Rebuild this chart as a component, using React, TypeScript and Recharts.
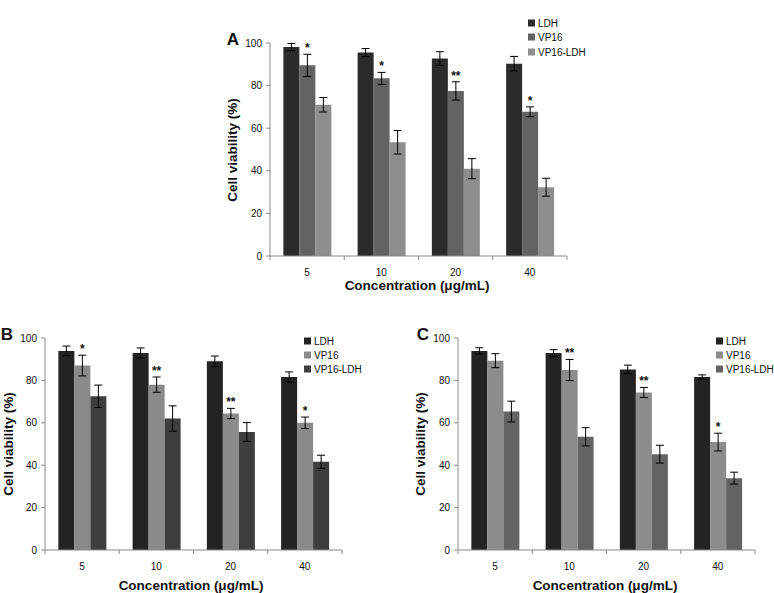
import React from "react";
import { BarChart, Bar, XAxis, YAxis, ErrorBar, LabelList } from "recharts";

const concentrations = ["5", "10", "20", "40"];
const yTicks = [0, 20, 40, 60, 80, 100];
const seriesNames = ["LDH", "VP16", "VP16-LDH"];

// Panel A
const aLDH = [98.1, 95.5, 92.7, 90.3];
const aLDHErr = [1.7, 1.9, 3.2, 3.4];
const aVP16 = [89.5, 83.4, 77.5, 67.7];
const aVP16Err = [5.2, 2.8, 4.3, 2.3];
const aVP16LDH = [71.0, 53.4, 41.0, 32.3];
const aVP16LDHErr = [3.4, 5.5, 4.7, 4.2];
const aSig = ["*", "*", "**", "*"];

// Panel B
const bLDH = [93.9, 92.9, 89.0, 81.6];
const bLDHErr = [2.3, 2.4, 2.5, 2.4];
const bVP16 = [87.0, 78.0, 64.4, 60.0];
const bVP16Err = [4.9, 3.6, 2.4, 2.7];
const bVP16LDH = [72.5, 62.0, 55.7, 41.6];
const bVP16LDHErr = [5.3, 6.0, 4.4, 3.1];
const bSig = ["*", "**", "**", "*"];

// Panel C
const cLDH = [93.9, 92.9, 85.2, 81.6];
const cLDHErr = [1.5, 1.6, 2.0, 1.0];
const cVP16 = [89.3, 84.9, 74.3, 50.9];
const cVP16Err = [3.3, 5.0, 2.4, 4.2];
const cVP16LDH = [65.3, 53.4, 45.2, 33.9];
const cVP16LDHErr = [4.9, 4.3, 4.2, 2.8];
const cSig = ["", "**", "**", "*"];

const FONT = "'Liberation Sans', Arial, sans-serif";

type Row = {
  c: string;
  ldh: number; ldhErr: number;
  vp: number; vpErr: number;
  vl: number; vlErr: number;
  sig: string;
};

function buildRows(l: number[], le: number[], v: number[], ve: number[], w: number[], we: number[], s: string[]): Row[] {
  return concentrations.map((c, i) => ({
    c, ldh: l[i], ldhErr: le[i], vp: v[i], vpErr: ve[i], vl: w[i], vlErr: we[i], sig: s[i],
  }));
}

const dataA = buildRows(aLDH, aLDHErr, aVP16, aVP16Err, aVP16LDH, aVP16LDHErr, aSig);
const dataB = buildRows(bLDH, bLDHErr, bVP16, bVP16Err, bVP16LDH, bVP16LDHErr, bSig);
const dataC = buildRows(cLDH, cLDHErr, cVP16, cVP16Err, cVP16LDH, cVP16LDHErr, cSig);

type PanelProps = {
  data: Row[];
  colors: string[];
  letter: string;
  box: { left: number; top: number; width: number; height: number };
  yAxisWidth: number;
  margin: { top: number; right: number; bottom: number; left: number };
  letterPos: { x: number; y: number };
  legendPos: { x: number; y: number; step: number };
  yTitlePos: { x: number; y: number };
  xTitlePos: { x: number; y: number };
};

const AXIS_COLOR = "#8a8a8a";

function Panel(p: PanelProps) {
  const plotWidth = p.box.width - p.margin.left - p.margin.right - p.yAxisWidth;
  const n = p.data.length;
  const bw = plotWidth / n;

  const XTick = (props: any) => {
    const { x, y, payload, index } = props;
    return (
      <g>
        <line x1={x - bw / 2} x2={x - bw / 2} y1={y} y2={y + 4} stroke={AXIS_COLOR} />
        {index === n - 1 && (
          <line x1={x + bw / 2} x2={x + bw / 2} y1={y} y2={y + 4} stroke={AXIS_COLOR} />
        )}
        <text x={x} y={y + 20} textAnchor="middle" fontSize={10} fill="#111" fontFamily={FONT}>
          {payload.value}
        </text>
      </g>
    );
  };

  const SigLabel = (props: any) => {
    const { x, y, width, height, value, index } = props;
    const row = p.data[index];
    if (!row || !row.sig) return null;
    const scale = height / value;
    const errTop = y - row.vpErr * scale;
    return (
      <text x={x + width / 2} y={errTop - 2} textAnchor="middle" fontSize={12} fontWeight="bold" fill="#111" fontFamily={FONT}>
        {row.sig}
      </text>
    );
  };

  return (
    <>
      <div style={{ position: "absolute", left: p.box.left, top: p.box.top }}>
        <BarChart
          width={p.box.width}
          height={p.box.height}
          data={p.data}
          margin={p.margin}
          barCategoryGap="18%"
          barGap={0}
        >
          <XAxis
            dataKey="c"
            height={30}
            stroke={AXIS_COLOR}
            tickLine={false}
            tickSize={0}
            tickMargin={0}
            tick={<XTick />}
            interval={0}
          />
          <YAxis
            width={p.yAxisWidth}
            domain={[0, 100]}
            ticks={yTicks}
            stroke={AXIS_COLOR}
            tickSize={4}
            tickMargin={4}
            tick={{ fontSize: 10, fill: "#111", fontFamily: FONT }}
            interval={0}
          />
          <Bar dataKey="ldh" fill={p.colors[0]} isAnimationActive={false}>
            <ErrorBar dataKey="ldhErr" width={4} stroke="#000" strokeWidth={1} direction="y" isAnimationActive={false} />
          </Bar>
          <Bar dataKey="vp" fill={p.colors[1]} isAnimationActive={false}>
            <ErrorBar dataKey="vpErr" width={4} stroke="#000" strokeWidth={1} direction="y" isAnimationActive={false} />
            <LabelList dataKey="vp" content={<SigLabel />} />
          </Bar>
          <Bar dataKey="vl" fill={p.colors[2]} isAnimationActive={false}>
            <ErrorBar dataKey="vlErr" width={4} stroke="#000" strokeWidth={1} direction="y" isAnimationActive={false} />
          </Bar>
        </BarChart>
      </div>
      <div
        style={{
          position: "absolute", left: p.letterPos.x, top: p.letterPos.y,
          transform: "translate(-50%, -50%)", fontFamily: FONT, fontWeight: "bold", fontSize: 17, color: "#111",
        }}
      >
        {p.letter}
      </div>
      <div
        style={{
          position: "absolute", left: p.yTitlePos.x, top: p.yTitlePos.y,
          transform: "translate(-50%, -50%) rotate(-90deg)", whiteSpace: "nowrap",
          fontFamily: FONT, fontWeight: "bold", fontSize: 13.5, color: "#111",
        }}
      >
        Cell viability (%)
      </div>
      <div
        style={{
          position: "absolute", left: p.xTitlePos.x, top: p.xTitlePos.y,
          transform: "translate(-50%, -50%)", whiteSpace: "nowrap",
          fontFamily: FONT, fontWeight: "bold", fontSize: 13.5, color: "#111",
        }}
      >
        Concentration (μg/mL)
      </div>
      {seriesNames.map((name, i) => (
        <div
          key={name}
          style={{
            position: "absolute", left: p.legendPos.x, top: p.legendPos.y + i * p.legendPos.step,
            transform: "translateY(-50%)", display: "flex", alignItems: "center",
            fontFamily: FONT, fontSize: 10, color: "#111", whiteSpace: "nowrap",
          }}
        >
          <span style={{ display: "inline-block", width: 7, height: 7, background: p.colors[i], marginRight: 3 }} />
          {name}
        </div>
      ))}
    </>
  );
}

export default function App() {
  return (
    <div style={{ position: "absolute", left: 0, top: 0, width: 774, height: 593, background: "#fff", overflow: "hidden" }}>
      <Panel
        data={dataA}
        colors={["#2b2b2b", "#636363", "#8e8e8e"]}
        letter="A"
        box={{ left: 190, top: 0, width: 400, height: 300 }}
        yAxisWidth={80}
        margin={{ top: 43, right: 23, bottom: 14, left: 0 }}
        letterPos={{ x: 233, y: 40 }}
        legendPos={{ x: 528, y: 22.7, step: 14.5 }}
        yTitlePos={{ x: 232, y: 150 }}
        xTitlePos={{ x: 417, y: 285 }}
      />
      <Panel
        data={dataB}
        colors={["#232323", "#8a8a8a", "#3e3e3e"]}
        letter="B"
        box={{ left: 0, top: 300, width: 360, height: 293 }}
        yAxisWidth={45}
        margin={{ top: 38, right: 18, bottom: 13, left: 0 }}
        letterPos={{ x: 7, y: 335 }}
        legendPos={{ x: 304, y: 340.7, step: 14.2 }}
        yTitlePos={{ x: 8, y: 444 }}
        xTitlePos={{ x: 191, y: 585 }}
      />
      <Panel
        data={dataC}
        colors={["#232323", "#8c8c8c", "#636363"]}
        letter="C"
        box={{ left: 400, top: 300, width: 374, height: 293 }}
        yAxisWidth={58}
        margin={{ top: 38, right: 19, bottom: 13, left: 0 }}
        letterPos={{ x: 423, y: 335 }}
        legendPos={{ x: 716, y: 340.7, step: 14.2 }}
        yTitlePos={{ x: 420, y: 444 }}
        xTitlePos={{ x: 605, y: 585 }}
      />
    </div>
  );
}
